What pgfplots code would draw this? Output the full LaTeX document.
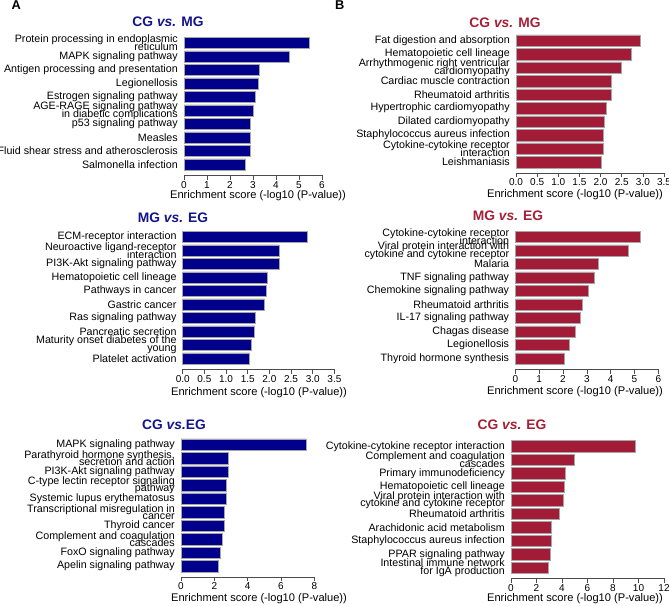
\documentclass[border=0pt]{standalone}
\usepackage{pgfplots}
\pgfplotsset{compat=1.18}
\usepackage{fontspec}
\setmainfont{Liberation Sans}
\lineskiplimit=-100pt
\lineskip=0pt
\definecolor{barblue}{RGB}{0,0,139}
\definecolor{barred}{RGB}{163,28,55}
\definecolor{titleblue}{RGB}{20,20,140}
\definecolor{titlered}{RGB}{165,32,52}
\pgfplotsset{
  panel/.style={
    scale only axis, anchor=south west, xbar, bar width=0.84,
    y dir=reverse, ymin=0.5, ymax=10.78, height=138.8bp, xmin=0,
    axis x line*=bottom, axis y line*=left,
    y axis line style={draw=none}, ytick={1,...,10},
    ytick style={draw=none},
    x axis line style={-, black!70}, xtick style={black!70, line width=0.6bp},
    tick align=outside, major tick length=4.5bp,
    /pgf/number format/assume math mode=true,
    xticklabel style={font=\fontsize{10bp}{12bp}\selectfont, inner sep=1.5bp},
    yticklabel style={font=\fontsize{10.7bp}{7.8bp}\selectfont, align=right, inner sep=0pt, xshift=-1.5bp},
    clip=false,
  },
  zf/.style={xticklabel style={/pgf/number format/.cd, fixed, fixed zerofill, precision=1}},
}
\newcommand{\ttl}[2]{\fontsize{13.8bp}{16bp}\selectfont\bfseries #1 \textit{vs.} #2}
\newcommand{\xl}{\fontsize{11.1bp}{13bp}\selectfont Enrichment score (-log10 (P-value))}
\begin{document}
\begin{tikzpicture}
\useasboundingbox (0,0) rectangle (669bp,-606bp);
% ---------- A1
\begin{axis}[panel, at={(184bp,-175bp)}, width=138bp, xmax=6, xtick={0,1,...,6},
  yticklabels={{Protein processing in endoplasmic\\reticulum},{MAPK signaling pathway},{Antigen processing and presentation},{Legionellosis},{Estrogen signaling pathway},{AGE-RAGE signaling pathway\\in diabetic complications},{p53 signaling pathway},{Measles},{Fluid shear stress and atherosclerosis},{Salmonella infection}}]
\addplot[fill=barblue, draw=gray!70, line width=0.5bp] coordinates {(5.45,1) (4.58,2) (3.27,3) (3.23,4) (3.10,5) (3.01,6) (2.87,7) (2.87,8) (2.86,9) (2.67,10)};
\end{axis}
% ---------- B1
\begin{axis}[panel, zf, at={(516bp,-172.7bp)}, width=148bp, xmax=3.5, xtick={0,0.5,...,3.5},
  yticklabels={{Fat digestion and absorption},{Hematopoietic cell lineage},{Arrhythmogenic right ventricular\\cardiomyopathy},{Cardiac muscle contraction},{Rheumatoid arthritis},{Hypertrophic cardiomyopathy},{Dilated cardiomyopathy},{Staphylococcus aureus infection},{Cytokine-cytokine receptor\\interaction},{Leishmaniasis}}]
\addplot[fill=barred, draw=gray!70, line width=0.5bp] coordinates {(2.93,1) (2.72,2) (2.50,3) (2.25,4) (2.25,5) (2.14,6) (2.08,7) (2.07,8) (2.06,9) (2.01,10)};
\end{axis}
% ---------- A2
\begin{axis}[panel, zf, at={(182.7bp,-369bp)}, width=151.7bp, xmax=3.5, xtick={0,0.5,...,3.5},
  yticklabels={{ECM-receptor interaction},{Neuroactive ligand-receptor\\interaction},{PI3K-Akt signaling pathway},{Hematopoietic cell lineage},{Pathways in cancer},{Gastric cancer},{Ras signaling pathway},{Pancreatic secretion},{Maturity onset diabetes of the\\young},{Platelet activation}}]
\addplot[fill=barblue, draw=gray!70, line width=0.5bp] coordinates {(2.87,1) (2.22,2) (2.22,3) (1.94,4) (1.92,5) (1.88,6) (1.68,7) (1.66,8) (1.58,9) (1.54,10)};
\end{axis}
% ---------- B2
\begin{axis}[panel, at={(515.3bp,-369bp)}, width=143bp, xmax=6, xtick={0,1,...,6},
  yticklabels={{Cytokine-cytokine receptor\\interaction},{Viral protein interaction with\\cytokine and cytokine receptor},{Malaria},{TNF signaling pathway},{Chemokine signaling pathway},{Rheumatoid arthritis},{IL-17 signaling pathway},{Chagas disease},{Legionellosis},{Thyroid hormone synthesis}}]
\addplot[fill=barred, draw=gray!70, line width=0.5bp] coordinates {(5.23,1) (4.76,2) (3.48,3) (3.30,4) (3.06,5) (2.81,6) (2.71,7) (2.53,8) (2.27,9) (2.04,10)};
\end{axis}
% ---------- A3
\begin{axis}[panel, at={(181bp,-576.7bp)}, width=133.3bp, xmax=8, xtick={0,2,...,8},
  yticklabels={{MAPK signaling pathway},{Parathyroid hormone synthesis,\\secretion and action},{PI3K-Akt signaling pathway},{C-type lectin receptor signaling\\pathway},{Systemic lupus erythematosus},{Transcriptional misregulation in\\cancer},{Thyroid cancer},{Complement and coagulation\\cascades},{FoxO signaling pathway},{Apelin signaling pathway}}]
\addplot[fill=barblue, draw=gray!70, line width=0.5bp] coordinates {(7.50,1) (2.82,2) (2.82,3) (2.74,4) (2.72,5) (2.62,6) (2.60,7) (2.46,8) (2.34,9) (2.26,10)};
\end{axis}
% ---------- B3
\begin{axis}[panel, at={(511bp,-578.3bp)}, width=153bp, xmax=12, xtick={0,2,...,12},
  yticklabels={{Cytokine-cytokine receptor interaction},{Complement and coagulation\\cascades},{Primary immunodeficiency},{Hematopoietic cell lineage},{Viral protein interaction with\\cytokine and cytokine receptor},{Rheumatoid arthritis},{Arachidonic acid metabolism},{Staphylococcus aureus infection},{PPAR signaling pathway},{Intestinal immune network\\for IgA production}}]
\addplot[fill=barred, draw=gray!70, line width=0.5bp] coordinates {(9.74,1) (4.96,2) (4.26,3) (4.18,4) (4.13,5) (3.79,6) (3.17,7) (3.12,8) (3.06,9) (2.94,10)};
\end{axis}
% ---------- titles, panel letters, x labels
\node[anchor=base west, font=\fontsize{12.8bp}{14bp}\selectfont\bfseries, inner sep=0pt] at (11.5bp,-9bp) {A};
\node[anchor=base west, font=\fontsize{12.8bp}{14bp}\selectfont\bfseries, inner sep=0pt] at (335bp,-9bp) {B};
\node[anchor=base, inner sep=0pt, text=titleblue] at (168bp,-26.7bp) {\ttl{CG}{MG}};
\node[anchor=base, inner sep=0pt, text=titlered] at (505bp,-27.3bp) {\ttl{CG}{MG}};
\node[anchor=base, inner sep=0pt, text=titleblue] at (173bp,-222.7bp) {\ttl{MG}{EG}};
\node[anchor=base, inner sep=0pt, text=titlered] at (508bp,-220.7bp) {\ttl{MG}{EG}};
\node[anchor=base, inner sep=0pt, text=titleblue] at (174bp,-429.3bp) {\fontsize{13.8bp}{16bp}\selectfont\bfseries CG \textit{vs.}EG};
\node[anchor=base, inner sep=0pt, text=titlered] at (512bp,-429.3bp) {\ttl{CG}{EG}};
\node[anchor=base, inner sep=0pt] at (258bp,-198bp) {\xl};
\node[anchor=base, inner sep=0pt] at (575bp,-197.5bp) {\xl};
\node[anchor=base, inner sep=0pt] at (259bp,-395bp) {\xl};
\node[anchor=base, inner sep=0pt] at (575bp,-394.5bp) {\xl};
\node[anchor=base, inner sep=0pt] at (259bp,-601bp) {\xl};
\node[anchor=base, inner sep=0pt] at (575bp,-601.5bp) {\xl};
\end{tikzpicture}
\end{document}
